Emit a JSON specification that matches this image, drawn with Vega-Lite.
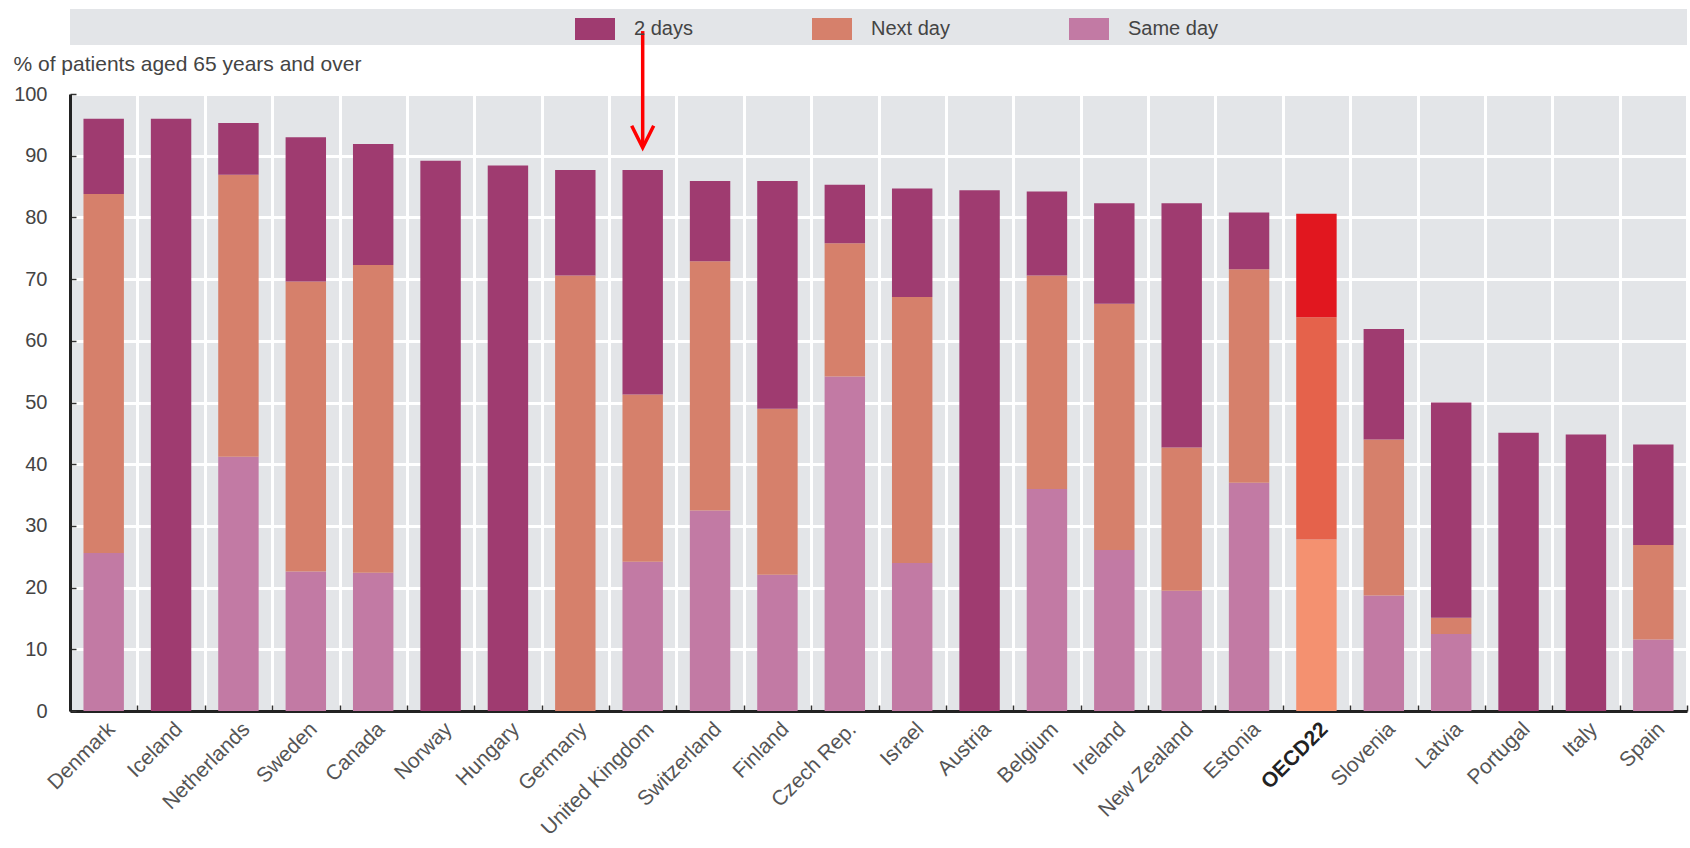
{
  "$schema": "https://vega.github.io/schema/vega-lite/v6.json",
  "padding": {"left": 13, "top": 9, "right": 3, "bottom": 0},
  "bounds": "flush",
  "spacing": 49,
  "config": {
    "font": "Liberation Sans",
    "view": {"stroke": null},
    "axis": {"labelFont": "Liberation Sans", "titleFont": "Liberation Sans"}
  },
  "vconcat": [
    {
      "width": 1617,
      "height": 36,
      "view": {"fill": "#e3e5e8", "stroke": null},
      "data": {"values": [{"panel": "legend"}]},
      "mark": {"type": "text", "text": " "},
      "encoding": {}
    },
    {
      "width": 1617,
      "height": 617,
      "view": {"fill": "#e3e5e8", "stroke": null},
      "layer": [
        {
          "data": {
            "values": [
              {"country": "Denmark", "timing": "Same day", "value": 25.6},
              {"country": "Denmark", "timing": "Next day", "value": 58.2},
              {"country": "Denmark", "timing": "2 days", "value": 12.2},
              {"country": "Iceland", "timing": "2 days", "value": 96.0},
              {"country": "Netherlands", "timing": "Same day", "value": 41.2},
              {"country": "Netherlands", "timing": "Next day", "value": 45.7},
              {"country": "Netherlands", "timing": "2 days", "value": 8.4},
              {"country": "Sweden", "timing": "Same day", "value": 22.6},
              {"country": "Sweden", "timing": "Next day", "value": 47.0},
              {"country": "Sweden", "timing": "2 days", "value": 23.4},
              {"country": "Canada", "timing": "Same day", "value": 22.4},
              {"country": "Canada", "timing": "Next day", "value": 49.9},
              {"country": "Canada", "timing": "2 days", "value": 19.6},
              {"country": "Norway", "timing": "2 days", "value": 89.2},
              {"country": "Hungary", "timing": "2 days", "value": 88.4},
              {"country": "Germany", "timing": "Next day", "value": 70.6},
              {"country": "Germany", "timing": "2 days", "value": 17.1},
              {"country": "United Kingdom", "timing": "Same day", "value": 24.2},
              {"country": "United Kingdom", "timing": "Next day", "value": 27.1},
              {"country": "United Kingdom", "timing": "2 days", "value": 36.4},
              {"country": "Switzerland", "timing": "Same day", "value": 32.5},
              {"country": "Switzerland", "timing": "Next day", "value": 40.4},
              {"country": "Switzerland", "timing": "2 days", "value": 13.0},
              {"country": "Finland", "timing": "Same day", "value": 22.1},
              {"country": "Finland", "timing": "Next day", "value": 26.9},
              {"country": "Finland", "timing": "2 days", "value": 36.9},
              {"country": "Czech Rep.", "timing": "Same day", "value": 54.2},
              {"country": "Czech Rep.", "timing": "Next day", "value": 21.6},
              {"country": "Czech Rep.", "timing": "2 days", "value": 9.5},
              {"country": "Israel", "timing": "Same day", "value": 24.0},
              {"country": "Israel", "timing": "Next day", "value": 43.1},
              {"country": "Israel", "timing": "2 days", "value": 17.6},
              {"country": "Austria", "timing": "2 days", "value": 84.4},
              {"country": "Belgium", "timing": "Same day", "value": 36.0},
              {"country": "Belgium", "timing": "Next day", "value": 34.6},
              {"country": "Belgium", "timing": "2 days", "value": 13.6},
              {"country": "Ireland", "timing": "Same day", "value": 26.1},
              {"country": "Ireland", "timing": "Next day", "value": 39.9},
              {"country": "Ireland", "timing": "2 days", "value": 16.3},
              {"country": "New Zealand", "timing": "Same day", "value": 19.5},
              {"country": "New Zealand", "timing": "Next day", "value": 23.2},
              {"country": "New Zealand", "timing": "2 days", "value": 39.6},
              {"country": "Estonia", "timing": "Same day", "value": 37.0},
              {"country": "Estonia", "timing": "Next day", "value": 34.6},
              {"country": "Estonia", "timing": "2 days", "value": 9.2},
              {"country": "OECD22", "timing": "Same day", "value": 27.8},
              {"country": "OECD22", "timing": "Next day", "value": 36.0},
              {"country": "OECD22", "timing": "2 days", "value": 16.8},
              {"country": "Slovenia", "timing": "Same day", "value": 18.7},
              {"country": "Slovenia", "timing": "Next day", "value": 25.3},
              {"country": "Slovenia", "timing": "2 days", "value": 17.9},
              {"country": "Latvia", "timing": "Same day", "value": 12.5},
              {"country": "Latvia", "timing": "Next day", "value": 2.6},
              {"country": "Latvia", "timing": "2 days", "value": 34.9},
              {"country": "Portugal", "timing": "2 days", "value": 45.1},
              {"country": "Italy", "timing": "2 days", "value": 44.8},
              {"country": "Spain", "timing": "Same day", "value": 11.6},
              {"country": "Spain", "timing": "Next day", "value": 15.3},
              {"country": "Spain", "timing": "2 days", "value": 16.3}
            ]
          },
          "transform": [
            {"calculate": "datum.country === 'OECD22' ? 'OECD ' + datum.timing : datum.timing", "as": "key"}
          ],
          "mark": {"type": "bar", "width": {"band": 0.6}},
          "encoding": {
            "x": {
              "field": "country",
              "type": "nominal",
              "sort": null,
              "scale": {"paddingInner": 0, "paddingOuter": 0},
              "axis": {
                "title": null,
                "labelAngle": -45,
                "labelFontSize": 21,
                "labelColor": {"condition": {"test": "datum.value === 'OECD22'", "value": "#222222"}, "value": "#555555"},
                "labelFontWeight": {"condition": {"test": "datum.value === 'OECD22'", "value": "bold"}, "value": "normal"},
                "labelPadding": 13,
                "tickBand": "extent",
                "ticks": true,
                "tickSize": -6,
                "tickColor": "#333333",
                "tickWidth": 1.5,
                "domainColor": "#222222",
                "domainWidth": 3,
                "grid": true,
                "gridColor": "#ffffff",
                "gridWidth": 3,
                "gridOpacity": 1
              }
            },
            "y": {
              "field": "value",
              "type": "quantitative",
              "stack": "zero",
              "scale": {"domain": [0, 100], "nice": false},
              "axis": {
                "values": [0, 10, 20, 30, 40, 50, 60, 70, 80, 90, 100],
                "title": "% of patients aged 65 years and over",
                "titleAngle": 0,
                "titleAlign": "left",
                "titleBaseline": "alphabetic",
                "titleX": -57,
                "titleY": -24,
                "titleFontSize": 21,
                "titleFontWeight": "normal",
                "titleColor": "#444444",
                "labelFontSize": 20,
                "labelColor": "#444444",
                "labelPadding": 29,
                "tickSize": -6,
                "tickColor": "#333333",
                "tickWidth": 1.5,
                "domainColor": "#222222",
                "domainWidth": 3,
                "grid": true,
                "gridColor": "#ffffff",
                "gridWidth": 3,
                "gridOpacity": 1
              }
            },
            "color": {
              "field": "key",
              "type": "nominal",
              "scale": {
                "domain": ["2 days", "Next day", "Same day", "OECD 2 days", "OECD Next day", "OECD Same day"],
                "range": ["#9f3b70", "#d6806b", "#c27aa4", "#e1171f", "#e5624b", "#f49170"]
              },
              "legend": {
                "values": ["2 days", "Next day", "Same day"],
                "title": null,
                "orient": "none",
                "legendX": 505,
                "legendY": 0,
                "direction": "horizontal",
                "symbolType": "M-1,-0.55H1V0.55H-1Z",
                "symbolSize": 1600,
                "symbolStrokeWidth": 0,
                "symbolOpacity": 1,
                "labelFontSize": 20,
                "labelColor": "#444444",
                "labelOffset": 19,
                "columnPadding": 119,
                "padding": 0
              }
            },
            "order": {"field": "timing", "sort": "descending"}
          }
        },
        {
          "data": {"values": [{"country": "United Kingdom"}]},
          "mark": {"type": "rule", "color": "#ff0000", "strokeWidth": 3.5},
          "encoding": {
            "x": {"field": "country", "type": "nominal", "sort": null},
            "y": {"datum": 110.2},
            "y2": {"datum": 91.6}
          }
        },
        {
          "data": {"values": [{"country": "United Kingdom"}]},
          "mark": {"type": "point", "shape": "M-1,-2L0,0L1,-2", "size": 484, "filled": false, "stroke": "#ff0000", "strokeWidth": 3.5, "opacity": 1},
          "encoding": {
            "x": {"field": "country", "type": "nominal", "sort": null},
            "y": {"datum": 91.3}
          }
        }
      ]
    }
  ]
}
